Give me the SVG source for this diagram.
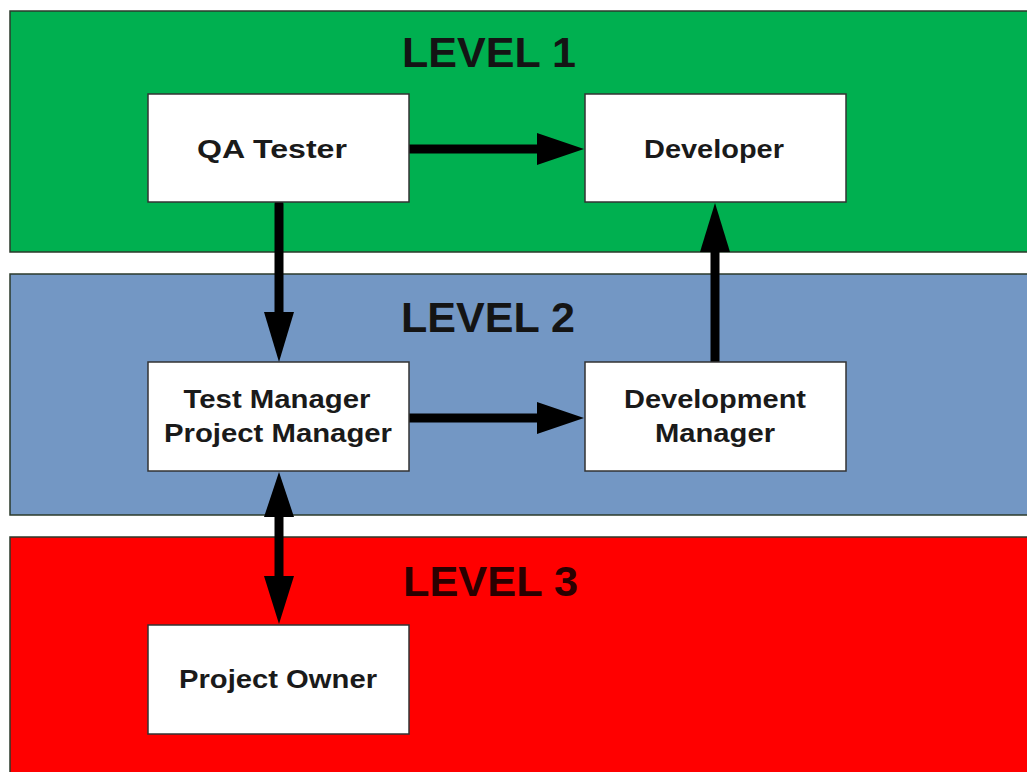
<svg xmlns="http://www.w3.org/2000/svg" width="1027" height="772" viewBox="0 0 1027 772">
<defs>
<style>
.band{stroke:#2b3a2b;stroke-width:1.5}
.box{fill:#ffffff;stroke:#333333;stroke-width:1.5}
.lvl{font-family:"Liberation Sans",Arial,sans-serif;font-weight:bold;font-size:42px;fill:#141414}
.lbl{font-family:"Liberation Sans",Arial,sans-serif;font-weight:bold;font-size:26px;fill:#1a1a1a;text-anchor:middle}
.conn{stroke:#000;stroke-width:9;fill:none;stroke-linecap:round}
.head{fill:#000}
</style>
</defs>
<rect width="1027" height="772" fill="#ffffff"/>
<g id="band1"><rect class="band" x="10" y="11" width="1030" height="241" fill="#00b050"/><text class="lvl" x="402" y="67" textLength="174" lengthAdjust="spacingAndGlyphs">LEVEL 1</text></g>
<g id="band2"><rect class="band" x="10" y="274" width="1030" height="241" fill="#7397c4"/><text class="lvl" x="401" y="332" textLength="174" lengthAdjust="spacingAndGlyphs">LEVEL 2</text></g>
<g id="band3"><rect class="band" x="10" y="537" width="1030" height="250" fill="#ff0000"/><text class="lvl" x="403" y="596" textLength="175" lengthAdjust="spacingAndGlyphs" style="fill:#2a0000">LEVEL 3</text></g>
<g id="connectors">
<line class="conn" x1="409" y1="149" x2="540" y2="149"/>
<polygon class="head" points="537,133 584,149 537,165"/>
<line class="conn" x1="279" y1="204" x2="279" y2="315"/>
<polygon class="head" points="264,312 279,362 294,312"/>
<line class="conn" x1="409" y1="418" x2="540" y2="418"/>
<polygon class="head" points="537,402 584,418 537,434"/>
<line class="conn" x1="715" y1="362" x2="715" y2="250" style="stroke-linecap:butt"/>
<polygon class="head" points="700,252 715,203 730,252"/>
<line class="conn" x1="279" y1="515" x2="279" y2="578" style="stroke-linecap:butt"/>
<polygon class="head" points="264,517 279,472 294,517"/>
<polygon class="head" points="264,576 279,624 294,576"/>
</g>
<g id="qa-tester"><rect class="box" x="148" y="94" width="261" height="108"/><text class="lbl" x="272" y="158" textLength="150" lengthAdjust="spacingAndGlyphs">QA Tester</text></g>
<g id="developer"><rect class="box" x="585" y="94" width="261" height="108"/><text class="lbl" x="714" y="158" textLength="140" lengthAdjust="spacingAndGlyphs">Developer</text></g>
<g id="test-manager"><rect class="box" x="148" y="362" width="261" height="109"/><text class="lbl" x="277" y="408" textLength="187" lengthAdjust="spacingAndGlyphs">Test Manager</text><text class="lbl" x="278" y="442" textLength="228" lengthAdjust="spacingAndGlyphs">Project Manager</text></g>
<g id="development-manager"><rect class="box" x="585" y="362" width="261" height="109"/><text class="lbl" x="715" y="408" textLength="182" lengthAdjust="spacingAndGlyphs">Development</text><text class="lbl" x="715" y="442" textLength="120" lengthAdjust="spacingAndGlyphs">Manager</text></g>
<g id="project-owner"><rect class="box" x="148" y="625" width="261" height="109"/><text class="lbl" x="278" y="688" textLength="198" lengthAdjust="spacingAndGlyphs">Project Owner</text></g>
</svg>
